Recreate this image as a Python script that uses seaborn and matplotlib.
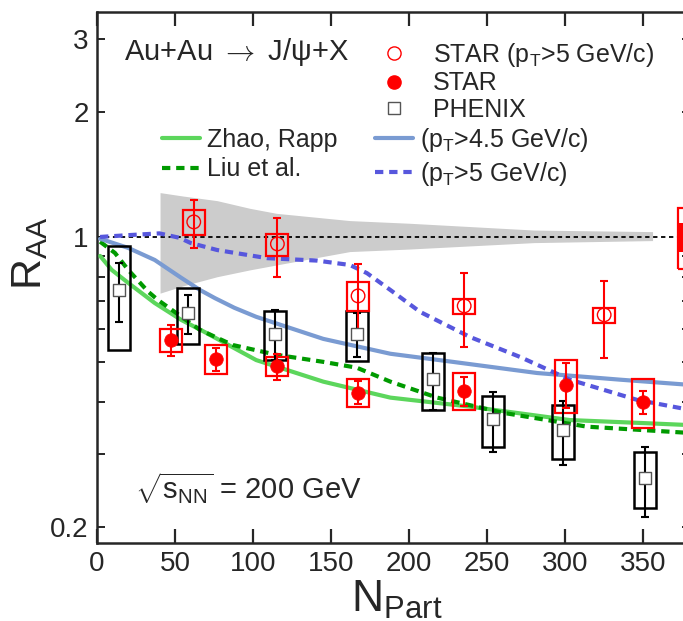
import numpy as np
import pandas as pd
import matplotlib
matplotlib.use("Agg")
import matplotlib.pyplot as plt
import seaborn as sns
from matplotlib.lines import Line2D

# ---------------- data ----------------
phenix_npart = [14.1, 58.1, 114.0, 166.4, 215.2, 253.8, 298.8, 351.0]
phenix_raa = [0.745, 0.656, 0.584, 0.584, 0.455, 0.364, 0.343, 0.263]
phenix_err_lo = [0.624, 0.584, 0.505, 0.514, 0.383, 0.303, 0.282, 0.211]
phenix_err_hi = [0.866, 0.725, 0.665, 0.656, 0.525, 0.423, 0.403, 0.312]
phenix_sys_lo = [0.534, 0.552, 0.505, 0.503, 0.383, 0.312, 0.292, 0.222]
phenix_sys_hi = [0.951, 0.754, 0.663, 0.663, 0.525, 0.414, 0.394, 0.303]

star_npart = [47.2, 76.0, 115.6, 167.3, 235.3, 300.6, 350.0]
star_raa = [0.565, 0.508, 0.489, 0.421, 0.426, 0.440, 0.400]
star_err_lo = [0.517, 0.475, 0.452, 0.395, 0.392, 0.387, 0.375]
star_err_hi = [0.614, 0.540, 0.522, 0.450, 0.460, 0.497, 0.426]
star_sys_lo = [0.528, 0.468, 0.463, 0.389, 0.383, 0.377, 0.347]
star_sys_hi = [0.600, 0.549, 0.514, 0.455, 0.470, 0.505, 0.455]

starhi_npart = [62.0, 115.6, 167.3, 235.3, 325.0]
starhi_raa = [1.087, 0.962, 0.721, 0.682, 0.649]
starhi_err_lo = [0.941, 0.801, 0.584, 0.543, 0.511]
starhi_err_hi = [1.228, 1.111, 0.861, 0.819, 0.783]
starhi_sys_lo = [1.011, 0.900, 0.663, 0.652, 0.621]
starhi_sys_hi = [1.162, 1.017, 0.779, 0.709, 0.675]

zhao_npart = [2, 9.4, 20, 37, 54, 69, 102, 145, 188, 239, 303, 350, 380]
zhao_raa = [0.90, 0.833, 0.775, 0.693, 0.631, 0.59, 0.505, 0.448, 0.41, 0.39, 0.362, 0.356, 0.352]

liu_npart = [2, 11.5, 20, 32.8, 39, 66, 87, 115, 145, 166.5, 188, 218, 260, 314, 380]
liu_raa = [0.974, 0.915, 0.833, 0.738, 0.705, 0.597, 0.549, 0.520, 0.50, 0.484, 0.448, 0.41, 0.377, 0.349, 0.337]

zhao45_npart = [2, 20, 37, 54, 66, 75.6, 88, 102, 145, 188, 228, 282, 335, 380]
zhao45_raa = [0.99, 0.941, 0.88, 0.797, 0.745, 0.712, 0.675, 0.642, 0.568, 0.523, 0.50, 0.47, 0.453, 0.44]

zhao5_npart = [2, 20, 40, 53, 60, 77, 109, 141, 162, 173, 188, 207, 239, 271, 303, 346, 380]
zhao5_raa = [1.0, 1.01, 1.02, 0.995, 0.967, 0.93, 0.889, 0.877, 0.856, 0.818, 0.745, 0.66, 0.574, 0.514, 0.453, 0.405, 0.383]

band_npart = [40.4, 55, 77, 98, 115, 162, 200, 280, 356]
band_hi = [1.279, 1.255, 1.223, 1.172, 1.14, 1.095, 1.079, 1.039, 1.03]
band_lo = [0.732, 0.762, 0.802, 0.833, 0.856, 0.922, 0.935, 0.969, 0.98]

norm_npart = 380.0
norm_sys = [0.837, 1.173]
norm_fill = [0.922, 1.08]

x_ticks = [0, 50, 100, 150, 200, 250, 300, 350]
y_ticks = [0.2, 0.3, 0.4, 0.5, 0.6, 0.7, 0.8, 0.9, 1, 2, 3]
y_ticklabels = ["0.2", "", "", "", "", "", "", "", "1", "2", "3"]

# ---------------- style ----------------
sns.set_style("ticks")
plt.rcParams["font.family"] = ["Liberation Sans", "DejaVu Sans"]
plt.rcParams["mathtext.fontset"] = "custom"
plt.rcParams["mathtext.rm"] = "Liberation Sans"
plt.rcParams["mathtext.it"] = "Liberation Sans:italic"
plt.rcParams["mathtext.bf"] = "Liberation Sans:bold"
plt.rcParams["mathtext.sf"] = "Liberation Sans"

RED = "#ff0000"
C_ZHAO = "#5cd65c"
C_LIU = "#009a00"
C_B45 = "#7a9bd2"
C_B5 = "#5757dd"

fig = plt.figure(figsize=(6.83, 6.21), dpi=100)
ax = fig.add_axes([97 / 683, 78 / 621, 593 / 683, 531 / 621])
ax.set_yscale("log")
ax.set_xlim(0, 380)
ax.set_ylim(0.183, 3.484)

# band
ax.fill_between(band_npart, band_lo, band_hi, color="#cccccc", lw=0, zorder=1)
ax.axhline(1.0, color="black", lw=1.3, linestyle=(0, (2.4, 2.0)), zorder=2)

# model curves
def curve(x, y, color, ls):
    df = pd.DataFrame({"N": x, "R": y})
    sns.lineplot(data=df, x="N", y="R", ax=ax, color=color, lw=3,
                 linestyle=ls, sort=False, estimator=None, legend=False, zorder=3)

DASH = (0, (2.0, 1.4))
curve(zhao_npart, zhao_raa, C_ZHAO, "-")
curve(liu_npart, liu_raa, C_LIU, DASH)
curve(zhao45_npart, zhao45_raa, C_B45, "-")
curve(zhao5_npart, zhao5_raa, C_B5, DASH)

BW = 14.0
# systematic boxes
def boxes(x, lo, hi, color, lw):
    lo = np.asarray(lo); hi = np.asarray(hi)
    ax.bar(x, hi - lo, bottom=lo, width=BW, fill=False, edgecolor=color,
           linewidth=lw, zorder=4)

boxes(phenix_npart, phenix_sys_lo, phenix_sys_hi, "black", 1.8)
boxes(star_npart, star_sys_lo, star_sys_hi, RED, 1.6)
boxes(starhi_npart, starhi_sys_lo, starhi_sys_hi, RED, 1.6)

# normalization box
ax.bar([norm_npart], [norm_sys[1] - norm_sys[0]], bottom=[norm_sys[0]], width=15,
       fill=False, edgecolor=RED, linewidth=1.6, zorder=4)
ax.bar([norm_npart], [norm_fill[1] - norm_fill[0]], bottom=[norm_fill[0]], width=15,
       color=RED, linewidth=0, zorder=4)

# error bars
def errs(x, y, lo, hi, color):
    y = np.asarray(y)
    ax.errorbar(x, y, yerr=[y - np.asarray(lo), np.asarray(hi) - y], fmt="none",
                ecolor=color, elinewidth=1.5, capsize=3, capthick=1.5, zorder=5)

errs(phenix_npart, phenix_raa, phenix_err_lo, phenix_err_hi, "black")
errs(star_npart, star_raa, star_err_lo, star_err_hi, RED)
errs(starhi_npart, starhi_raa, starhi_err_lo, starhi_err_hi, RED)

# markers
sns.scatterplot(x=phenix_npart, y=phenix_raa, ax=ax, marker="s", s=85,
                color="white", edgecolor="#555555", linewidth=1.0, zorder=6)
sns.scatterplot(x=star_npart, y=star_raa, ax=ax, marker="o", s=95,
                color=RED, edgecolor=RED, linewidth=0.5, zorder=6)
sns.scatterplot(x=starhi_npart, y=starhi_raa, ax=ax, marker="o", s=95,
                facecolor="none", edgecolor=RED, linewidth=1.0, zorder=6)

# axes cosmetics
for sp in ax.spines.values():
    sp.set_linewidth(1.8)
    sp.set_visible(True)
ax.set_xticks(x_ticks)
ax.set_xticklabels([str(v) for v in x_ticks])
ax.set_yticks(y_ticks)
ax.set_yticklabels(y_ticklabels)
ax.minorticks_off()
ax.tick_params(axis="x", which="major", direction="in", length=10, width=1.6,
               top=True, labelsize=20, pad=6)
ax.tick_params(axis="y", which="major", direction="in", length=6, width=1.4,
               right=True, labelsize=20, pad=6)

ax.set_xlabel("N$_{\\rm Part}$", fontsize=32, va="top")
ax.xaxis.set_label_coords(0.505, -0.068)
ax.set_ylabel("R$_{\\rm AA}$", fontsize=31, va="center")
ax.yaxis.set_label_coords(-0.113, 0.545)

ax.text(0.0455, 0.9096, "Au+Au $\\rightarrow$ J/\u03c8+X", transform=ax.transAxes,
        fontsize=21, va="baseline", ha="left", math_fontfamily="cm")
ax.text(0.064, 0.083, "$\\sqrt{\\mathrm{s}_{\\mathrm{NN}}}$ = 200 GeV",
        transform=ax.transAxes, fontsize=21, va="baseline", ha="left")

# legends
h1 = [Line2D([], [], ls="none", marker="o", ms=9.5, mfc="none", mec=RED, mew=1.0),
      Line2D([], [], ls="none", marker="o", ms=9.5, mfc=RED, mec=RED),
      Line2D([], [], ls="none", marker="s", ms=8.5, mfc="white", mec="#555555", mew=1.0)]
l1 = ["STAR (p$_\\mathrm{T}$>5 GeV/c)", "STAR", "PHENIX"]
leg1 = ax.legend(h1, l1, loc="upper left", bbox_to_anchor=((381 - 97) / 593, (543 - 41) / 531),
                 frameon=False, fontsize=18, handlelength=1.0, handletextpad=1.07,
                 labelspacing=0.1, borderpad=0, borderaxespad=0)
ax.add_artist(leg1)

h2 = [Line2D([], [], color=C_ZHAO, lw=3),
      Line2D([], [], color=C_LIU, lw=3, ls=DASH),
      Line2D([], [], color=C_B45, lw=3),
      Line2D([], [], color=C_B5, lw=3, ls=DASH)]
l2 = ["Zhao, Rapp", "Liu et al.", "(p$_\\mathrm{T}$>4.5 GeV/c)", "(p$_\\mathrm{T}$>5 GeV/c)"]
ax.legend(h2, l2, loc="upper left", ncol=2,
          bbox_to_anchor=((162 - 97) / 593, (543 - 126) / 531),
          frameon=False, fontsize=18, handlelength=1.5, handletextpad=0.3,
          columnspacing=1.5, labelspacing=0.22, borderpad=0, borderaxespad=0)

fig.savefig("out.png", dpi=100)
